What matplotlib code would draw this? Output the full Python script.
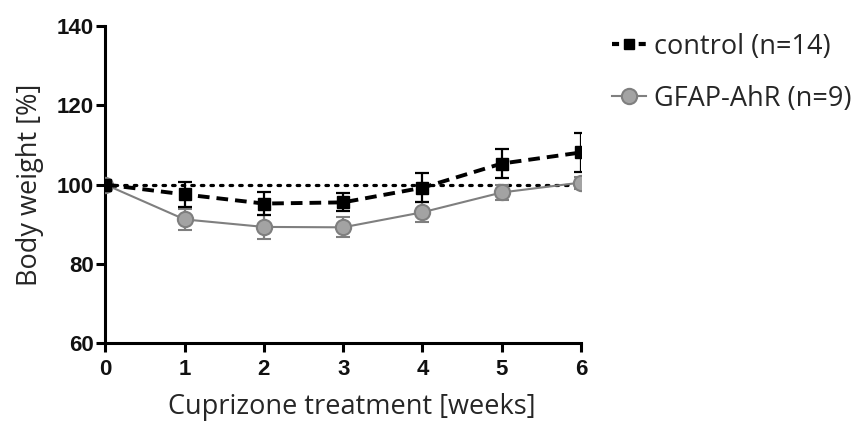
import matplotlib
matplotlib.use("Agg")
import matplotlib.pyplot as plt
from matplotlib.lines import Line2D

weeks = [0, 1, 2, 3, 4, 5, 6]
control_mean = [100, 97.5, 95.2, 95.5, 99.2, 105.3, 108.1]
control_err = [0, 3.1, 3.0, 2.3, 3.6, 3.7, 5.0]
gfap_mean = [100, 91.2, 89.3, 89.2, 93.0, 98.0, 100.5]
gfap_err = [0, 2.7, 3.0, 2.5, 2.5, 1.8, 1.5]
baseline = [100, 100]
baseline_x = [0, 6]
labels = ["control (n=14)", "GFAP-AhR (n=9)"]
xticks = [0, 1, 2, 3, 4, 5, 6]
yticks = [60, 80, 100, 120, 140]

fig = plt.figure(figsize=(8.59, 4.21), dpi=100)
ax = fig.add_axes([0.1226, 0.1853, 0.5538, 0.7527])

gray = "#7f7f7f"
txt = "#262626"
ax.plot(baseline_x, baseline, color="black", lw=2.3, linestyle=(0, (0.8, 2.2)),
        dash_capstyle="round", zorder=2)
ax.errorbar(weeks, gfap_mean, yerr=gfap_err, color=gray, lw=1.5, elinewidth=1.6,
            capsize=5, capthick=1.6, marker="o", markersize=11,
            markerfacecolor="#a3a3a3", markeredgecolor=gray, markeredgewidth=1.5,
            zorder=3)
ax.errorbar(weeks, control_mean, yerr=control_err, color="black", lw=2.8,
            linestyle=(0, (3, 1.8)), elinewidth=1.6, capsize=5, capthick=1.6,
            marker="s", markersize=8, zorder=4)

ax.set_xlim(0, 6)
ax.set_ylim(60, 140)
ax.set_xticks(xticks)
ax.set_yticks(yticks)
for s in ["top", "right"]:
    ax.spines[s].set_visible(False)
for s in ["left", "bottom"]:
    ax.spines[s].set_linewidth(2.2)
ax.tick_params(width=2.2, length=6.5, direction="out")
ax.tick_params(axis="x", pad=5)
ax.tick_params(axis="y", pad=2)
for lab in ax.get_xticklabels() + ax.get_yticklabels():
    lab.set_fontfamily("Liberation Sans")
    lab.set_fontweight("bold")
    lab.set_fontsize(16)
    lab.set_color("#111111")
ax.set_xlabel("Cuprizone treatment [weeks]", fontsize=19.5, family="Open Sans",
              color=txt, labelpad=9)
ax.xaxis.set_label_coords(0.519, -0.158)
ax.xaxis.label.set_va("top")
ax.set_ylabel("Body weight [%]", fontsize=19.5, family="Open Sans",
              color=txt, labelpad=9)
for sp in ax.spines.values():
    sp.set_clip_on(False)

h1 = Line2D([], [], color="black", lw=3, linestyle=(0, (1.7, 1.5)), marker="s", markersize=7)
h2 = Line2D([], [], color=gray, lw=1.5, marker="o", markersize=11,
            markerfacecolor="#a3a3a3", markeredgecolor=gray, markeredgewidth=1.5)
leg = fig.legend([h1, h2], labels, loc="upper left", bbox_to_anchor=(0.713, 0.922),
                 frameon=False, prop={"family": "Open Sans", "size": 19.5},
                 handlelength=1.25, handletextpad=0.3, labelspacing=0.89,
                 borderpad=0, borderaxespad=0, labelcolor=txt)

fig.savefig("out.png", dpi=100)
